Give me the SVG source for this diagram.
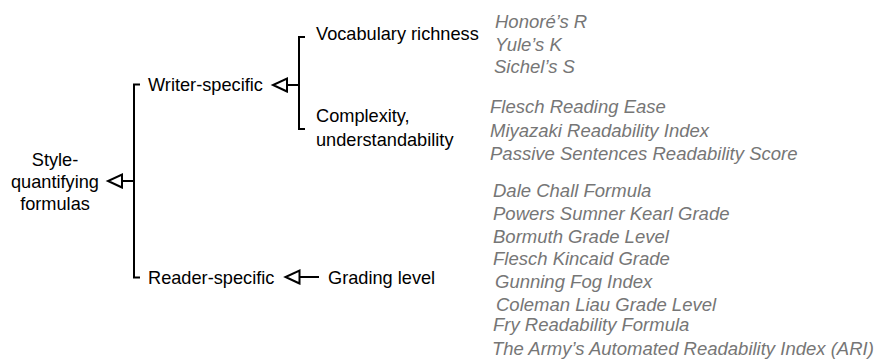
<svg xmlns="http://www.w3.org/2000/svg" width="876" height="360" viewBox="0 0 876 360">
<defs>
<style>
.t{font-family:"Liberation Sans",Arial,Helvetica,sans-serif;font-size:18.2px;fill:#000}
.g{font-family:"Liberation Sans",Arial,Helvetica,sans-serif;font-size:18.5px;font-style:italic;fill:#767676}
.c{fill:none;stroke:#000;stroke-width:2}
</style>
<marker id="tri" viewBox="0 0 16 16" refX="15" refY="8" markerWidth="16" markerHeight="16" markerUnits="userSpaceOnUse" orient="auto" overflow="visible">
<path d="M1,1.5 L15,8 L1,14.5 Z" fill="#fff" stroke="#000" stroke-width="2" stroke-linejoin="miter"/>
</marker>
</defs>
<rect width="876" height="360" fill="#fff"/>
<g id="connectors">
<path class="c" d="M140,84.5 H134 V277.5 H140"/>
<path class="c" d="M134,181 H108" marker-end="url(#tri)"/>
<path class="c" d="M305,37 H299 V129 H305"/>
<path class="c" d="M299,85 H273" marker-end="url(#tri)"/>
<path class="c" d="M319,277 H285.5" marker-end="url(#tri)"/>
</g>
<g id="root"><text class="t" text-anchor="middle"><tspan x="55" y="166">Style-</tspan><tspan x="55" y="188">quantifying</tspan><tspan x="55" y="210">formulas</tspan></text></g>
<g id="writer"><text class="t" x="148" y="91">Writer-specific</text></g>
<g id="reader"><text class="t" x="148" y="284">Reader-specific</text></g>
<g id="vocab"><text class="t" x="316" y="40">Vocabulary richness</text></g>
<g id="complexity"><text class="t"><tspan x="316" y="122">Complexity,</tspan><tspan x="316" y="146">understandability</tspan></text></g>
<g id="grading"><text class="t" x="328" y="284">Grading level</text></g>
<g id="vocab-list">
<text class="g" x="495" y="28">Honoré’s R</text>
<text class="g" x="495" y="51">Yule’s K</text>
<text class="g" x="494" y="73">Sichel’s S</text>
</g>
<g id="complexity-list">
<text class="g" x="490" y="113">Flesch Reading Ease</text>
<text class="g" x="490" y="136.5">Miyazaki Readability Index</text>
<text class="g" x="490" y="160">Passive Sentences Readability Score</text>
</g>
<g id="grading-list">
<text class="g" x="493" y="197">Dale Chall Formula</text>
<text class="g" x="493" y="220">Powers Sumner Kearl Grade</text>
<text class="g" x="493" y="243">Bormuth Grade Level</text>
<text class="g" x="493" y="265">Flesch Kincaid Grade</text>
<text class="g" x="495" y="288">Gunning Fog Index</text>
<text class="g" x="496" y="311">Coleman Liau Grade Level</text>
<text class="g" x="493" y="331">Fry Readability Formula</text>
<text class="g" x="492" y="355">The Army’s Automated Readability Index (ARI)</text>
</g>
</svg>
